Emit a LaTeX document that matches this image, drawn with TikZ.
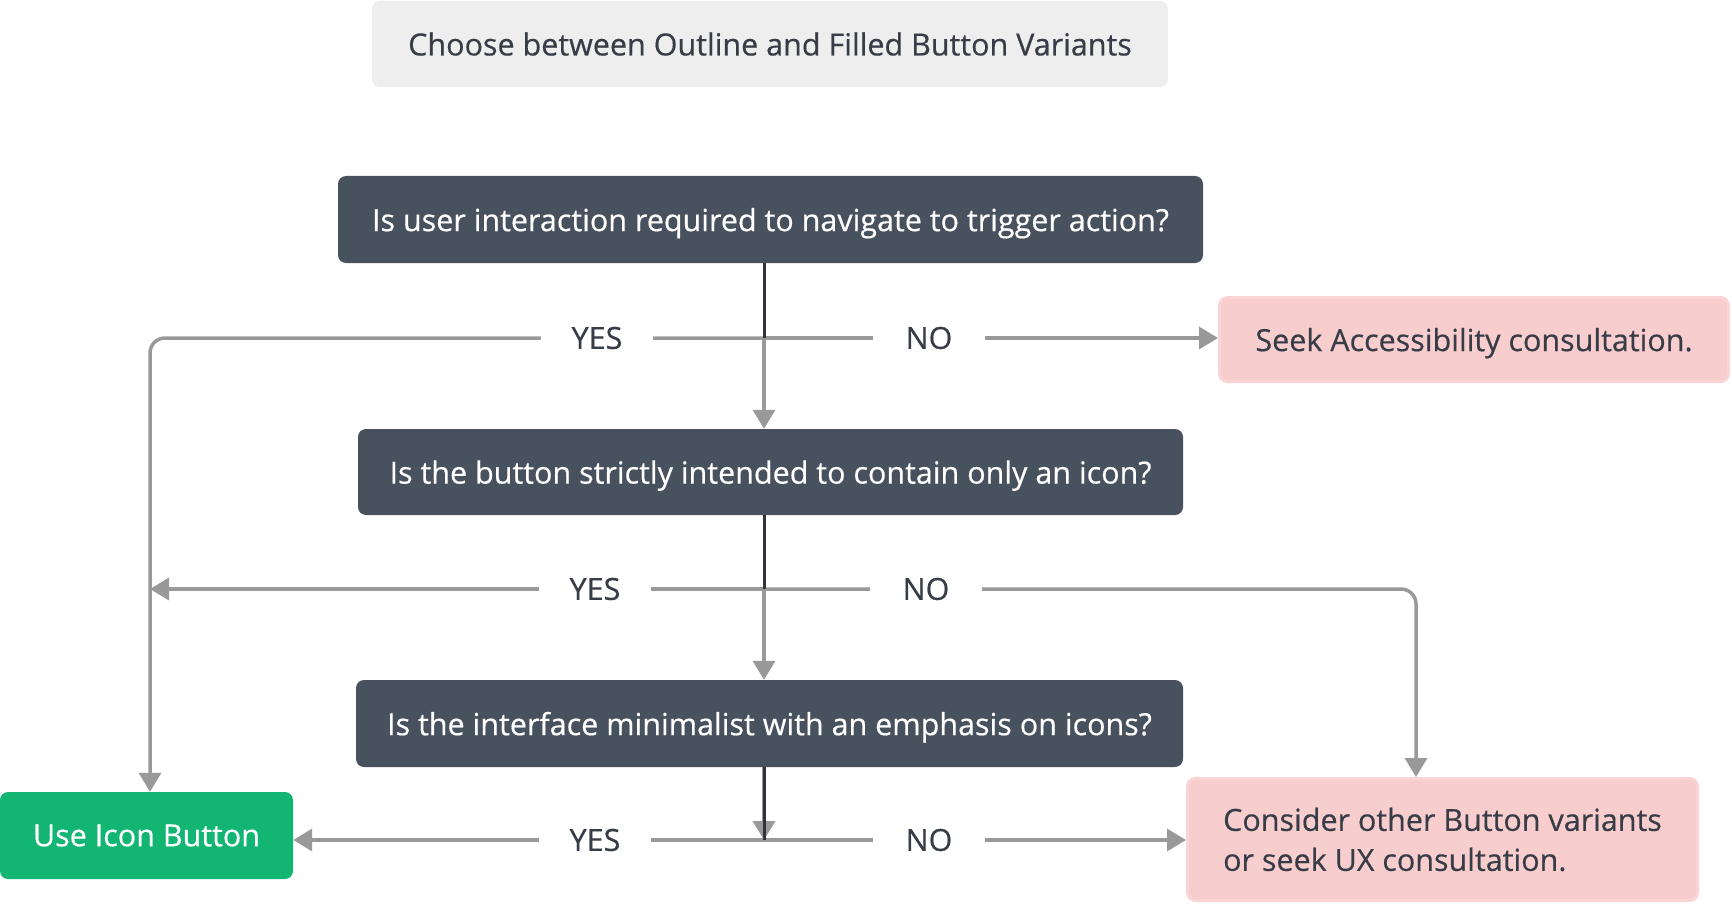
\documentclass[tikz,border=0pt]{standalone}
\usepackage{fontspec}
\setmainfont{Open Sans}[FakeBold=0.45]
\usetikzlibrary{arrows.meta}
\definecolor{qdark}{HTML}{48515E}
\definecolor{txtdark}{HTML}{373C46}
\definecolor{titlefill}{HTML}{EEEEEE}
\definecolor{pinkfill}{HTML}{F7CDCE}
\definecolor{pinkborder}{HTML}{FBD5D5}
\definecolor{greenfill}{HTML}{13B573}
\definecolor{greyline}{HTML}{999999}
\definecolor{darkline}{HTML}{2F343B}
\newcommand{\boxfont}{\fontsize{30.5}{40}\selectfont}
\tikzset{
  basebox/.style={rounded corners=8pt, inner sep=0pt, font=\boxfont},
  titlebox/.style={basebox, fill=titlefill, text=txtdark},
  qbox/.style={basebox, fill=qdark, text=white, text depth=0pt},
  pinkbox/.style={basebox, fill=pinkfill, draw=pinkborder, line width=3pt, text=txtdark},
  greenbox/.style={basebox, fill=greenfill, text=white},
  gline/.style={draw=greyline, line width=3.5pt},
  garrow/.style={gline, -{Triangle[length=19pt,width=22pt]}},
  dline/.style={draw=darkline, line width=3pt},
  lbl/.style={fill=white, text=txtdark, font=\boxfont, inner sep=0pt, minimum width=112pt, minimum height=40pt},
}
\begin{document}
\begin{tikzpicture}[x=1pt,y=-1pt]
\useasboundingbox (0,0) rectangle (1732,904);
% boxes
\node[titlebox, minimum width=796pt, minimum height=86pt] (title) at (770,44) {Choose between Outline and Filled Button Variants};
\node[qbox, minimum width=865pt, minimum height=87pt] (q1) at (770.5,219.5) {Is user interaction required to navigate to trigger action?};
\node[pinkbox, text depth=0pt, minimum width=509pt, minimum height=84pt] (seek) at (1474,339.5) {Seek Accessibility consultation.};
\node[qbox, minimum width=825pt, minimum height=86pt] (q2) at (770.5,472) {Is the button strictly intended to contain only an icon?};
\node[qbox, minimum width=827pt, minimum height=87pt] (q3) at (769.5,723.5) {Is the interface minimalist with an emphasis on icons?};
\node[greenbox, minimum width=293pt, minimum height=87pt] (use) at (146.5,835.5) {Use Icon Button};
\node[pinkbox, minimum width=510pt, minimum height=122pt, align=left] (cons) at (1442.5,839.5) {Consider other Button variants\\or seek UX consultation.};
% junctions and corners
\coordinate (j1) at (764,338);
\coordinate (j2) at (764,589);
\coordinate (j3) at (764,840);
\coordinate (c1) at (150,338);
\coordinate (c3) at (1416,589);
% grey connectors
\draw[garrow, rounded corners=15pt] (j1) -- (c1) -- (c1 |- use.north);
\draw[garrow] (j1) -- (j1 -| seek.west);
\draw[garrow] (j1) -- (j1 |- q2.north);
\draw[garrow] (j2) -- (c1 |- j2);
\draw[garrow, rounded corners=15pt] (j2) -- (c3) -- (c3 |- cons.north);
\draw[garrow] (j2) -- (j2 |- q3.north);
\draw[garrow] (j3 |- q3.south) -- (j3);
\draw[garrow] (j3) -- (j3 -| use.east);
\draw[garrow] (j3) -- (j3 -| cons.west);
% labels
\node[lbl] (y1) at (597,338) {YES};
\node[lbl] (n1) at (929,338) {NO};
\node[lbl] (y2) at (595,589) {YES};
\node[lbl] (n2) at (926,589) {NO};
\node[lbl] (y3) at (595,840) {YES};
\node[lbl] (n3) at (929,840) {NO};
% dark connectors
\draw[dline] (j1 |- q1.south) -- (j1);
\draw[dline] (j2 |- q2.south) -- (j2);
\draw[dline] (j3 |- q3.south) -- (j3);
\end{tikzpicture}
\end{document}
